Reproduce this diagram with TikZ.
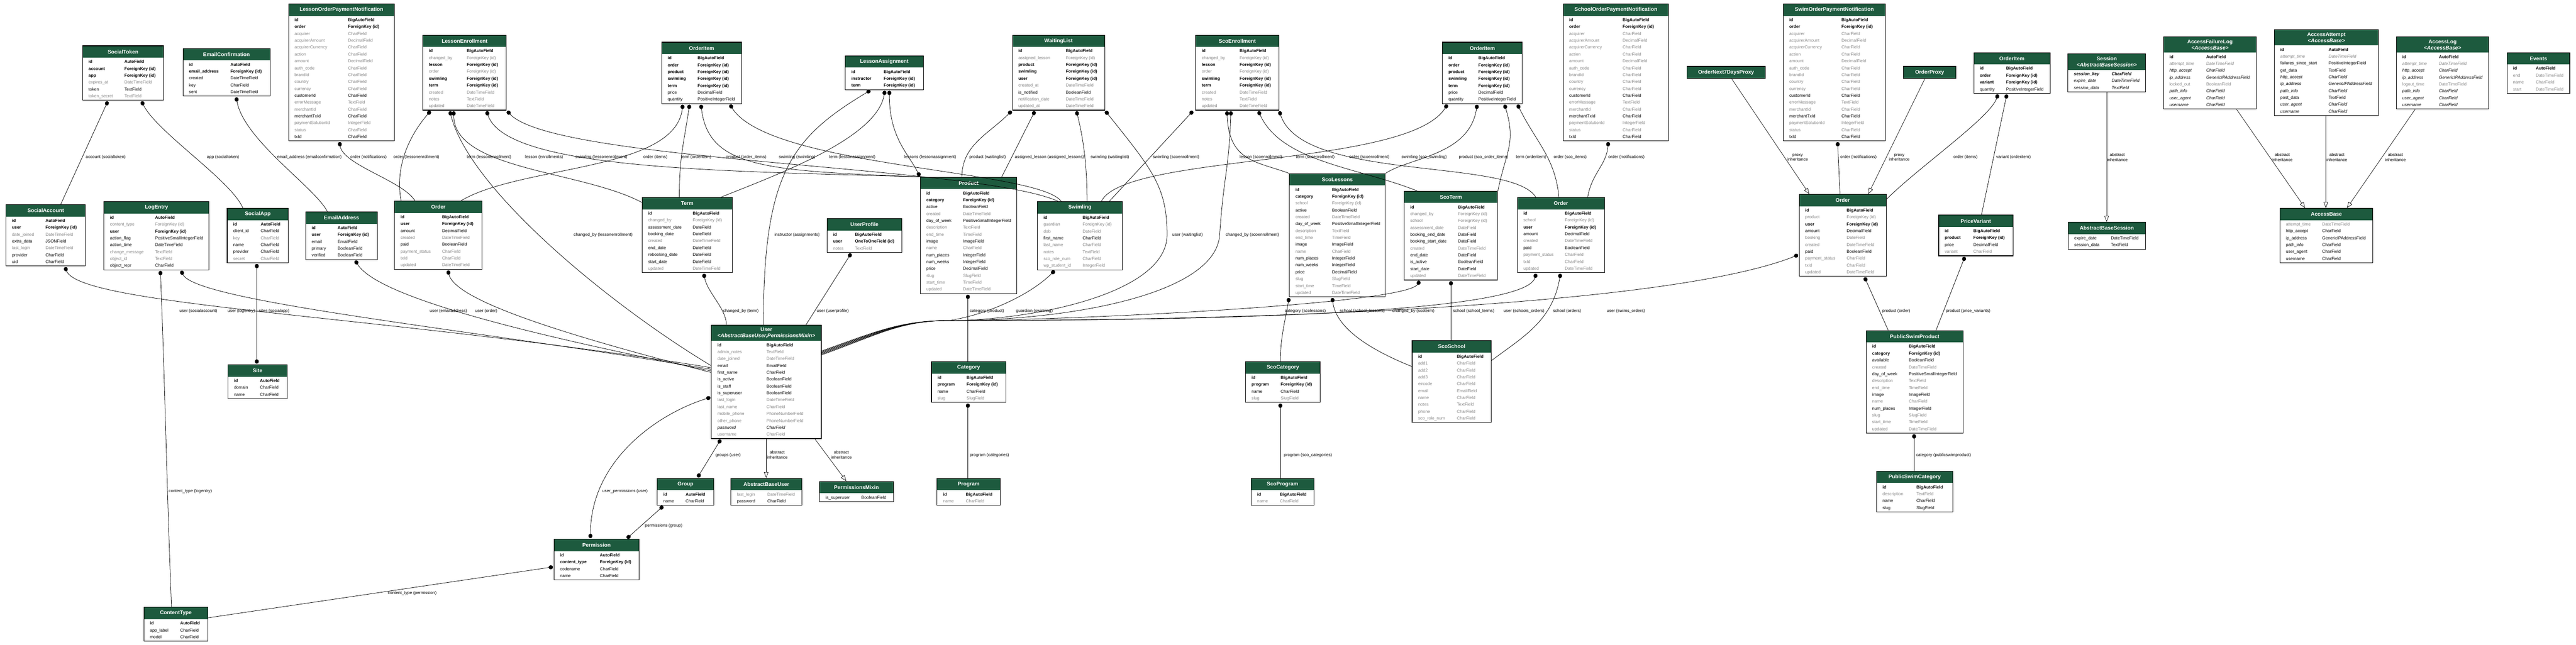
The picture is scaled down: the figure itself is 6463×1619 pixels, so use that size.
\documentclass[tikz,border=0pt]{standalone}
\usepackage{fontspec}
\setmainfont{Liberation Sans}
\usepackage{array}
\usetikzlibrary{arrows.meta,fit}

\definecolor{hdr}{HTML}{1D5A3E}
\definecolor{fieldgray}{HTML}{858585}
\renewcommand{\arraystretch}{1.38}

% one table row per field
\newcommand{\rowb}[2]{\textbf{#1} & \textbf{#2}\\}
\newcommand{\rown}[2]{#1 & #2\\}
\newcommand{\rowg}[2]{\textcolor{fieldgray}{#1} & \textcolor{fieldgray}{#2}\\}
\newcommand{\rowi}[2]{\textit{#1} & \textit{#2}\\}
\newcommand{\rowgi}[2]{\textcolor{fieldgray}{\textit{#1}} & \textcolor{fieldgray}{\textit{#2}}\\}
\newcommand{\rowbi}[2]{\textbf{\textit{#1}} & \textbf{\textit{#2}}\\}

% rows that several models share
\newcommand{\payrows}{\rowb{id}{BigAutoField}\rowb{order}{ForeignKey (id)}\rowg{acquirer}{CharField}
  \rowg{acquirerAmount}{DecimalField}\rowg{acquirerCurrency}{CharField}\rowg{action}{CharField}
  \rowg{amount}{DecimalField}\rowg{auth\_code}{CharField}\rowg{brandId}{CharField}
  \rowg{country}{CharField}\rowg{currency}{CharField}\rown{customerId}{CharField}
  \rowg{errorMessage}{TextField}\rowg{merchantId}{CharField}\rown{merchantTxId}{CharField}
  \rowg{paymentSolutionId}{IntegerField}\rowg{status}{CharField}\rown{txId}{CharField}}
\newcommand{\enrollrows}{\rowb{id}{BigAutoField}\rowg{changed\_by}{ForeignKey (id)}
  \rowb{lesson}{ForeignKey (id)}\rowg{order}{ForeignKey (id)}\rowb{swimling}{ForeignKey (id)}
  \rowb{term}{ForeignKey (id)}\rowg{created}{DateTimeField}\rowg{notes}{TextField}
  \rowg{updated}{DateTimeField}}
\newcommand{\itemrows}{\rowb{id}{BigAutoField}\rowb{order}{ForeignKey (id)}
  \rowb{product}{ForeignKey (id)}\rowb{swimling}{ForeignKey (id)}\rowb{term}{ForeignKey (id)}
  \rown{price}{DecimalField}\rown{quantity}{PositiveIntegerField}}
\newcommand{\lessonrows}{\rown{active}{BooleanField}\rowg{created}{DateTimeField}
  \rown{day\_of\_week}{PositiveSmallIntegerField}\rowg{description}{TextField}
  \rowg{end\_time}{TimeField}\rown{image}{ImageField}\rowg{name}{CharField}
  \rown{num\_places}{IntegerField}\rown{num\_weeks}{IntegerField}\rown{price}{DecimalField}
  \rowg{slug}{SlugField}\rowg{start\_time}{TimeField}\rowg{updated}{DateTimeField}}
\newcommand{\catrows}{\rowb{id}{BigAutoField}\rowb{program}{ForeignKey (id)}
  \rown{name}{CharField}\rowg{slug}{SlugField}}
\newcommand{\progrows}{\rowb{id}{BigAutoField}\rowg{name}{CharField}}

% #2 name, #3 top left, #4 width, #5 name column, #6 title, #7 rows
\newcommand{\ermodel}[7][]{%
  \node[model head, minimum width=#4pt, #1] (#2-h) at #3 {#6};
  \node[model body] (#2-b) at (#2-h.south west)
    {\begin{tabular}{@{\hspace{15pt}}p{#5pt}@{}l@{\hspace{6pt}}}#7\end{tabular}};
  \node[model frame, fit=(#2-h)(#2-b)] (#2) {};
}

\tikzset{
  model head/.style={fill=hdr, text=white, font=\fontsize{13.2}{15}\selectfont\bfseries,
    minimum height=29.6pt, inner sep=0pt, align=center, anchor=north west},
  model body/.style={inner xsep=0pt, inner ysep=1.5pt, anchor=north west,
    font=\fontsize{10.7}{12.5}\selectfont},
  model frame/.style={draw=black, line width=1.4pt, inner sep=0pt},
  fk/.style={draw, line width=1pt, {Circle[length=11pt,width=10pt]}-, shorten <=2pt},
  mm/.style={draw, line width=1pt, {Circle[length=11pt,width=10pt]}-{Circle[length=11pt,width=10pt]},
    shorten <=2pt, shorten >=2pt},
  inh/.style={draw, line width=0.9pt, -{Triangle[open,length=15pt,width=11pt]}},
  elabel/.style={font=\fontsize{10.6}{12}\selectfont, inner sep=1pt, anchor=west},
  ilabel/.style={font=\fontsize{10.6}{12}\selectfont, inner sep=1pt, align=center},
}

\begin{document}
\begin{tikzpicture}[x=1pt, y=-1pt]
  \useasboundingbox[fill=white] (0,0) rectangle (6463,1619);

  % allauth, admin, sites
  \ermodel{socialtoken}{(207,115)}{203}{90}{SocialToken}{\rowb{id}{AutoField}\rowb{account}{ForeignKey (id)}
    \rowb{app}{ForeignKey (id)}\rowg{expires\_at}{DateTimeField}\rown{token}{TextField}\rowg{token\_secret}{TextField}}
  \ermodel{emailconf}{(459,122)}{218}{104}{EmailConfirmation}{\rowb{id}{AutoField}
    \rowb{email\_address}{ForeignKey (id)}\rown{created}{DateTimeField}\rown{key}{CharField}\rown{sent}{DateTimeField}}
  \ermodel{lopn}{(724,10)}{265}{134}{LessonOrderPaymentNotification}{\payrows}
  \ermodel{socialaccount}{(15,514)}{199}{84}{SocialAccount}{\rowb{id}{AutoField}\rowb{user}{ForeignKey (id)}
    \rowg{date\_joined}{DateTimeField}\rown{extra\_data}{JSONField}\rowg{last\_login}{DateTimeField}
    \rown{provider}{CharField}\rown{uid}{CharField}}
  \ermodel{logentry}{(261,506)}{263}{113}{LogEntry}{\rowb{id}{AutoField}\rowg{content\_type}{ForeignKey (id)}
    \rowb{user}{ForeignKey (id)}\rown{action\_flag}{PositiveSmallIntegerField}\rown{action\_time}{DateTimeField}
    \rowg{change\_message}{TextField}\rowg{object\_id}{TextField}\rown{object\_repr}{CharField}}
  \ermodel{socialapp}{(570,523)}{153}{69}{SocialApp}{\rowb{id}{AutoField}\rown{client\_id}{CharField}
    \rowg{key}{CharField}\rown{name}{CharField}\rown{provider}{CharField}\rowg{secret}{CharField}}
  \ermodel{emailaddress}{(767,532)}{179}{65}{EmailAddress}{\rowb{id}{AutoField}\rowb{user}{ForeignKey (id)}
    \rown{email}{EmailField}\rown{primary}{BooleanField}\rown{verified}{BooleanField}}
  \ermodel{site}{(572,916)}{148}{65}{Site}{\rowb{id}{AutoField}\rown{domain}{CharField}\rown{name}{CharField}}
  \ermodel{contenttype}{(361,1525)}{160}{76}{ContentType}{\rowb{id}{AutoField}\rown{app\_label}{CharField}\rown{model}{CharField}}

  % lessons
  \ermodel{orderl}{(990,505)}{219}{104}{Order}{\rowb{id}{BigAutoField}\rowb{user}{ForeignKey (id)}
    \rown{amount}{DecimalField}\rowg{created}{DateTimeField}\rown{paid}{BooleanField}
    \rowg{payment\_status}{CharField}\rowg{txId}{CharField}\rowg{updated}{DateTimeField}}
  \ermodel{enroll}{(1061,88)}{209}{95}{LessonEnrollment}{\enrollrows}
  \ermodel{iteml}{(1660,106)}{200}{75}{OrderItem}{\itemrows}
  \ermodel{assign}{(2121,140)}{195}{81}{LessonAssignment}{\rowb{id}{BigAutoField}
    \rowb{instructor}{ForeignKey (id)}\rowb{term}{ForeignKey (id)}}
  \ermodel{term}{(1611,496)}{226}{112}{Term}{\rowb{id}{BigAutoField}\rowg{changed\_by}{ForeignKey (id)}
    \rown{assessment\_date}{DateField}\rown{booking\_date}{DateField}\rowg{created}{DateTimeField}
    \rown{end\_date}{DateField}\rown{rebooking\_date}{DateField}\rown{start\_date}{DateField}\rowg{updated}{DateTimeField}}
  \ermodel{profile}{(2075,549)}{187}{55}{UserProfile}{\rowb{id}{BigAutoField}
    \rowb{user}{OneToOneField (id)}\rowg{notes}{TextField}}
  \ermodel{waiting}{(2540,88)}{231}{119}{WaitingList}{\rowb{id}{BigAutoField}\rowg{assigned\_lesson}{ForeignKey (id)}
    \rowb{product}{ForeignKey (id)}\rowb{swimling}{ForeignKey (id)}\rowb{user}{ForeignKey (id)}
    \rowg{created\_at}{DateTimeField}\rown{is\_notified}{BooleanField}\rowg{notification\_date}{DateTimeField}
    \rowg{updated\_at}{DateTimeField}}
  \ermodel{product}{(2309,445)}{242}{92}{Product}{\rowb{id}{BigAutoField}\rowb{category}{ForeignKey (id)}\lessonrows}
  \ermodel{swimling}{(2603,506)}{212}{98}{Swimling}{\rowb{id}{BigAutoField}\rowg{guardian}{ForeignKey (id)}
    \rowg{dob}{DateField}\rown{first\_name}{CharField}\rowg{last\_name}{CharField}\rowg{notes}{TextField}
    \rowg{sco\_role\_num}{CharField}\rowg{wp\_student\_id}{IntegerField}}
  \ermodel{category}{(2337,908)}{186}{73}{Category}{\catrows}
  \ermodel{program}{(2351,1201)}{158}{57}{Program}{\progrows}

  % schools
  \ermodel{scoenroll}{(3000,88)}{208}{95}{ScoEnrollment}{\enrollrows}
  \ermodel{scolessons}{(3235,436)}{240}{92}{ScoLessons}{\rowb{id}{BigAutoField}\rowb{category}{ForeignKey (id)}
    \rowg{school}{ForeignKey (id)}\lessonrows}
  \ermodel{items}{(3619,106)}{200}{75}{OrderItem}{\itemrows}
  \ermodel{sopn}{(3922,10)}{264}{134}{SchoolOrderPaymentNotification}{\payrows}
  \ermodel{scoterm}{(3523,480)}{234}{120}{ScoTerm}{\rowb{id}{BigAutoField}\rowg{changed\_by}{ForeignKey (id)}
    \rowg{school}{ForeignKey (id)}\rowg{assessment\_date}{DateField}\rown{booking\_end\_date}{DateField}
    \rown{booking\_start\_date}{DateField}\rowg{created}{DateTimeField}\rown{end\_date}{DateField}
    \rown{is\_active}{BooleanField}\rown{start\_date}{DateField}\rowg{updated}{DateTimeField}}
  \ermodel{orders}{(3807,496)}{218}{104}{Order}{\rowb{id}{BigAutoField}\rowg{school}{ForeignKey (id)}
    \rowb{user}{ForeignKey (id)}\rown{amount}{DecimalField}\rowg{created}{DateTimeField}\rown{paid}{BooleanField}
    \rowg{payment\_status}{CharField}\rowg{txId}{CharField}\rowg{updated}{DateTimeField}}
  \ermodel{scocategory}{(3125,908)}{187}{73}{ScoCategory}{\catrows}
  \ermodel{scoprogram}{(3139,1201)}{157}{57}{ScoProgram}{\progrows}
  \ermodel{scoschool}{(3543,855)}{198}{97}{ScoSchool}{\rowb{id}{BigAutoField}\rowg{add1}{CharField}
    \rowg{add2}{CharField}\rowg{add3}{CharField}\rowg{eircode}{CharField}\rowg{email}{EmailField}
    \rowg{name}{CharField}\rowg{notes}{TextField}\rowg{phone}{CharField}\rowg{sco\_role\_num}{CharField}}

  % public swims
  \node[model head, draw=black, line width=1.4pt, minimum width=196pt, minimum height=31pt] (next7) at (4232,166) {OrderNext7DaysProxy};
  \node[model head, draw=black, line width=1.4pt, minimum width=131pt, minimum height=31pt] (orderproxy) at (4775,166) {OrderProxy};
  \ermodel{swopn}{(4474,10)}{256}{131}{SwimOrderPaymentNotification}{\payrows}
  \ermodel{itemw}{(4952,132)}{191}{66}{OrderItem}{\rowb{id}{BigAutoField}\rowb{order}{ForeignKey (id)}
    \rowb{variant}{ForeignKey (id)}\rown{quantity}{PositiveIntegerField}}
  \ermodel{orderw}{(4514,488)}{218}{104}{Order}{\rowb{id}{BigAutoField}\rowg{product}{ForeignKey (id)}
    \rowb{user}{ForeignKey (id)}\rown{amount}{DecimalField}\rowg{booking}{DateField}\rowg{created}{DateTimeField}
    \rown{paid}{BooleanField}\rowg{payment\_status}{CharField}\rowg{txId}{CharField}\rowg{updated}{DateTimeField}}
  \ermodel{pricevariant}{(4864,540)}{186}{72}{PriceVariant}{\rowb{id}{BigAutoField}\rowb{product}{ForeignKey (id)}
    \rown{price}{DecimalField}\rowg{variant}{CharField}}
  \ermodel{publicproduct}{(4682,830)}{243}{92}{PublicSwimProduct}{\rowb{id}{BigAutoField}\rowb{category}{ForeignKey (id)}
    \rown{available}{BooleanField}\rowg{created}{DateTimeField}\rown{day\_of\_week}{PositiveSmallIntegerField}
    \rowg{description}{TextField}\rowg{end\_time}{TimeField}\rown{image}{ImageField}\rowg{name}{CharField}
    \rown{num\_places}{IntegerField}\rowg{slug}{SlugField}\rowg{start\_time}{TimeField}\rowg{updated}{DateTimeField}}
  \ermodel{publiccategory}{(4708,1183)}{191}{85}{PublicSwimCategory}{\rowb{id}{BigAutoField}
    \rowg{description}{TextField}\rown{name}{CharField}\rown{slug}{SlugField}}

  % sessions, axes, events
  \ermodel[minimum height=40pt]{session}{(5188,135)}{195}{95}{Session\\\textit{<AbstractBaseSession>}}{\rowbi{session\_key}{CharField}
    \rowi{expire\_date}{DateTimeField}\rowi{session\_data}{TextField}}
  \ermodel{abstractsession}{(5189,558)}{193}{92}{AbstractBaseSession}{\rown{expire\_date}{DateTimeField}\rown{session\_data}{TextField}}
  \ermodel[minimum height=40pt]{failurelog}{(5428,92)}{233}{92}{AccessFailureLog\\\textit{<AccessBase>}}{\rowb{id}{AutoField}
    \rowgi{attempt\_time}{DateTimeField}\rowi{http\_accept}{CharField}\rowi{ip\_address}{GenericIPAddressField}
    \rowg{locked\_out}{BooleanField}\rowi{path\_info}{CharField}\rowi{user\_agent}{CharField}\rowi{username}{CharField}}
  \ermodel[minimum height=40pt]{attempt}{(5706,74)}{261}{121}{AccessAttempt\\\textit{<AccessBase>}}{\rowb{id}{AutoField}
    \rowgi{attempt\_time}{DateTimeField}\rown{failures\_since\_start}{PositiveIntegerField}\rown{get\_data}{TextField}
    \rowi{http\_accept}{CharField}\rowi{ip\_address}{GenericIPAddressField}\rowi{path\_info}{CharField}
    \rown{post\_data}{TextField}\rowi{user\_agent}{CharField}\rowi{username}{CharField}}
  \ermodel[minimum height=40pt]{accesslog}{(6012,92)}{232}{92}{AccessLog\\\textit{<AccessBase>}}{\rowb{id}{AutoField}
    \rowgi{attempt\_time}{DateTimeField}\rowi{http\_accept}{CharField}\rowi{ip\_address}{GenericIPAddressField}
    \rowg{logout\_time}{DateTimeField}\rowi{path\_info}{CharField}\rowi{user\_agent}{CharField}\rowi{username}{CharField}}
  \ermodel{events}{(6290,132)}{157}{57}{Events}{\rowb{id}{AutoField}\rowg{end}{DateTimeField}
    \rowg{name}{CharField}\rowg{start}{DateTimeField}}
  \ermodel{accessbase}{(5720,523)}{233}{91}{AccessBase}{\rowg{attempt\_time}{DateTimeField}\rown{http\_accept}{CharField}
    \rown{ip\_address}{GenericIPAddressField}\rown{path\_info}{CharField}\rown{user\_agent}{CharField}\rown{username}{CharField}}

  % users
  \ermodel[minimum height=40pt]{user}{(1785,816)}{275}{123}{User\\\textit{<AbstractBaseUser,PermissionsMixin>}}{\rowb{id}{BigAutoField}
    \rowg{admin\_notes}{TextField}\rowg{date\_joined}{DateTimeField}\rown{email}{EmailField}\rown{first\_name}{CharField}
    \rown{is\_active}{BooleanField}\rown{is\_staff}{BooleanField}\rown{is\_superuser}{BooleanField}
    \rowg{last\_login}{DateTimeField}\rowg{last\_name}{CharField}\rowg{mobile\_phone}{PhoneNumberField}
    \rowg{other\_phone}{PhoneNumberField}\rowi{password}{CharField}\rowg{username}{CharField}}
  \ermodel{group}{(1649,1201)}{141}{56}{Group}{\rowb{id}{AutoField}\rown{name}{CharField}}
  \ermodel{abstractuser}{(1834,1201)}{177}{76}{AbstractBaseUser}{\rowg{last\_login}{DateTimeField}\rown{password}{CharField}}
  \ermodel{permmixin}{(2056,1209)}{185}{90}{PermissionsMixin}{\rown{is\_superuser}{BooleanField}}
  \ermodel{permission}{(1390,1354)}{213}{100}{Permission}{\rowb{id}{AutoField}\rowb{content\_type}{ForeignKey (id)}
    \rown{codename}{CharField}\rown{name}{CharField}}

  \coordinate (ubus) at (2380,805);

  % upper connectors
  \draw[fk] ([xshift=65pt]socialtoken.south west) -- ([xshift=138pt]socialaccount.north west);
  \draw[fk] ([xshift=148pt]socialtoken.south west) .. controls +(40,80) and +(-30,-70) .. ([xshift=40pt]socialapp.north west);
  \draw[fk] ([xshift=134pt]emailconf.south west) .. controls +(20,110) and +(-30,-60) .. ([xshift=55pt]emailaddress.north west);
  \draw[fk] ([xshift=128pt]lopn.south west) .. controls +(10,60) and +(-30,-50) .. ([xshift=52pt]orderl.north west);
  \draw[fk] ([xshift=21pt]enroll.south west) .. controls +(-60,70) and +(-15,-80) .. ([xshift=17pt]orderl.north west);
  \draw[fk] ([xshift=78pt]enroll.south west) .. controls +(0,150) and +(-150,-80) .. ([yshift=-13pt]term.north west);
  \draw[fk] ([xshift=160pt]enroll.south west) .. controls +(50,150) and +(-500,-15) .. ([xshift=8pt]product.north west);
  \draw[fk] (enroll.south east) .. controls +(120,130) and +(-200,-90) .. ([xshift=52pt]swimling.north west);
  \draw[fk] ([xshift=68pt]enroll.south west) .. controls +(50,200) and +(-250,-150) .. ([yshift=-103pt]user.north west);
  \draw[fk] ([xshift=54pt]iteml.south west) .. controls +(-20,170) and +(150,-90) .. ([xshift=167pt]orderl.north west);
  \draw[fk] ([xshift=71pt]iteml.south west) .. controls +(-15,100) and +(0,-100) .. ([xshift=94pt]term.north west);
  \draw[fk] ([xshift=99pt]iteml.south west) .. controls +(20,160) and +(-400,-15) .. ([xshift=8pt]product.north west);
  \draw[fk] ([xshift=171pt]iteml.south west) .. controls +(100,160) and +(-60,-80) .. ([xshift=60pt]swimling.north west);
  \draw[fk] ([xshift=100pt]assign.south west) .. controls +(-20,120) and +(150,-60) .. ([xshift=198pt]term.north west);
  \draw[mm] ([xshift=111pt]assign.south west) .. controls +(0,120) and +(-30,-60) .. (product.north west);
  \draw[fk] ([xshift=65pt]assign.south west) .. controls +(-200,120) and +(0,-380) .. ([xshift=131pt]user.north west);
  \draw[fk] (waiting.south west) .. controls +(-60,60) and +(0,-80) .. ([xshift=105pt]product.north west);
  \draw[fk] ([xshift=58pt]waiting.south west) -- ([xshift=205pt]product.north west);
  \draw[fk] ([xshift=161pt]waiting.south west) .. controls +(20,80) and +(0,-80) .. ([xshift=125pt]swimling.north west);
  \draw[fk] ([xshift=-5pt]scoenroll.south west) -- ([xshift=181pt]swimling.north west);
  \draw[fk] ([xshift=79pt]scoenroll.south west) .. controls +(5,130) and +(-80,-30) .. (scolessons.north west);
  \draw[fk] ([xshift=157pt]scoenroll.south west) .. controls +(60,130) and +(-150,-60) .. ([xshift=33pt]scoterm.north west);
  \draw[fk] (scoenroll.south east) .. controls +(60,180) and +(-60,-100) .. ([xshift=47pt]orders.north west);
  \draw[fk] ([xshift=14pt]items.south west) .. controls +(-100,160) and +(60,-120) .. ([xshift=161pt]swimling.north west);
  \draw[fk] ([xshift=88pt]items.south west) .. controls +(-20,130) and +(60,-40) .. (scolessons.north east);
  \draw[fk] ([xshift=156pt]items.south west) .. controls +(30,100) and +(20,-100) .. (scoterm.north east);
  \draw[fk] ([xshift=188pt]items.south west) .. controls +(50,100) and +(-10,-100) .. ([xshift=105pt]orders.north west);
  \draw[fk] ([xshift=114pt]sopn.south west) .. controls +(-5,60) and +(10,-60) .. ([xshift=177pt]orders.north west);
  \draw[inh] ([xshift=113pt]next7.south west) -- ([xshift=26pt]orderw.north west);
  \draw[inh] ([xshift=54pt]orderproxy.south west) -- ([xshift=174pt]orderw.north west);
  \draw[fk] ([xshift=137pt]swopn.south west) -- ([xshift=103pt]orderw.north west);
  \draw[fk] ([xshift=62pt]itemw.south west) .. controls +(-20,60) and +(80,-80) .. ([yshift=-13pt]orderw.north east);
  \draw[fk] ([xshift=84pt]itemw.south west) -- ([xshift=108pt]pricevariant.north west);
  \draw[inh] ([xshift=98pt]session.south west) -- ([xshift=97pt]abstractsession.north west);
  \draw[inh] ([xshift=184pt]failurelog.south west) -- ([xshift=64pt]accessbase.north west);
  \draw[inh] ([xshift=130pt]attempt.south west) -- ([xshift=116pt]accessbase.north west);
  \draw[inh] ([xshift=48pt]accesslog.south west) -- ([xshift=169pt]accessbase.north west);

  % connectors into User and the lower row
  \draw[fk] ([xshift=148pt]socialaccount.south west) .. controls +(40,100) and +(-800,-130) .. ([yshift=-108pt]user.north west);
  \draw[fk] ([xshift=193pt]logentry.south west) .. controls +(40,80) and +(-600,-100) .. ([yshift=-112pt]user.north west);
  \draw[fk] ([xshift=142pt]logentry.south west) .. controls +(12,300) and +(-12,-300) .. ([xshift=70pt]contenttype.north west);
  \draw[mm] ([xshift=75pt]socialapp.south west) -- ([xshift=73pt]site.north west);
  \draw[fk] ([xshift=124pt]emailaddress.south west) .. controls +(60,100) and +(-400,-80) .. ([yshift=-116pt]user.north west);
  \draw[fk] ([xshift=134pt]orderl.south west) .. controls +(20,80) and +(-350,-90) .. ([yshift=-120pt]user.north west);
  \draw[fk] ([xshift=155pt]term.south west) .. controls +(10,50) and +(0,-40) .. ([xshift=38pt]user.north west);
  \draw[fk] ([xshift=62pt]profile.south west) -- ([xshift=238pt]user.north west);
  \draw[fk] ([xshift=120pt]product.south west) -- ([xshift=92pt]category.north west);
  \draw[fk] (waiting.south east) .. controls +(120,150) and +(0,-120) .. (2928,590) .. controls +(0,150) and +(200,0) .. (ubus)
    .. controls +(-120,0) and +(140,-50) .. ([yshift=-66pt]user.north east);
  \draw[fk] ([xshift=89pt]scoenroll.south west) .. controls +(-5,150) and +(10,-150) .. (3060,590) .. controls +(-10,150) and +(300,0) .. (ubus)
    .. controls +(-120,0) and +(140,-50) .. ([yshift=-68pt]user.north east);
  \draw[fk] ([xshift=45pt]swimling.south west) .. controls +(-60,60) and +(100,-15) .. (ubus)
    .. controls +(-120,0) and +(140,-50) .. ([yshift=-70pt]user.north east);
  \draw[fk] ([xshift=41pt]scoterm.south west) .. controls +(-40,60) and +(300,0) .. (ubus)
    .. controls +(-120,0) and +(140,-50) .. ([yshift=-72pt]user.north east);
  \draw[fk] ([xshift=48pt]orders.south west) .. controls +(-30,110) and +(500,0) .. (ubus)
    .. controls +(-120,0) and +(140,-50) .. ([yshift=-74pt]user.north east);
  \draw[fk] ([yshift=-152pt]orderw.north west) .. controls +(-300,120) and +(900,0) .. (ubus)
    .. controls +(-120,0) and +(140,-50) .. ([yshift=-76pt]user.north east);
  \draw[fk] (scolessons.south west) .. controls +(-10,60) and +(0,-60) .. ([xshift=88pt]scocategory.north west);
  \draw[fk] ([xshift=108pt]scolessons.south west) .. controls +(10,80) and +(-100,-40) .. ([yshift=-66pt]scoschool.north west);
  \draw[fk] ([xshift=118pt]scoterm.south west) -- ([xshift=98pt]scoschool.north west);
  \draw[fk] ([xshift=109pt]orders.south west) .. controls +(-20,120) and +(80,-60) .. ([yshift=-51pt]scoschool.north east);
  \draw[fk] ([xshift=164pt]orderw.south west) -- ([xshift=56pt]publicproduct.north west);
  \draw[fk] ([xshift=67pt]pricevariant.south west) -- ([xshift=176pt]publicproduct.north west);
  \draw[fk] ([xshift=121pt]publicproduct.south west) -- ([xshift=95pt]publiccategory.north west);
  \draw[fk] ([xshift=92pt]category.south west) -- ([xshift=78pt]program.north west);
  \draw[fk] ([xshift=88pt]scocategory.south west) -- ([xshift=74pt]scoprogram.north west);
  \draw[mm] ([xshift=25pt]user.south west) -- ([xshift=101pt]group.north west);
  \draw[inh] ([xshift=138pt]user.south west) -- ([xshift=89pt]abstractuser.north west);
  \draw[inh] ([xshift=260pt]user.south west) -- ([xshift=68pt]permmixin.north west);
  \draw[mm] ([yshift=-182pt]user.north west) .. controls +(-130,40) and +(0,-200) .. ([xshift=92pt]permission.north west);
  \draw[mm] ([xshift=17pt]group.south west) -- ([xshift=182pt]permission.north west);
  \draw[fk] ([yshift=-70pt]permission.north west) -- ([yshift=-27pt]contenttype.north east);

  % connector labels
  \foreach \x/\y/\t [count=\i] in {214/395/account (socialtoken), 518/395/app (socialtoken),
      694/395/email\_address (emailconfirmation), 878/395/order (notifications), 986/395/order (lessonenrollment),
      1170/395/term (lessonenrollment), 1316/395/lesson (enrollments), 1442/395/swimling (lessonenrollment),
      1613/395/order (items), 1707/395/term (orderitem), 1820/395/product (order\_items),
      1953/395/swimling (swimling), 2079/395/term (lessonassignment), 2267/395/lessons (lessonassignment),
      2431/395/product (waitinglist), 2545/395/assigned\_lesson (assigned\_lessons), 2735/395/swimling (waitinglist),
      2891/395/swimling (scoenrollment), 3109/395/lesson (scoenrollment), 3250/395/term (scoenrollment),
      3384/395/order (scoenrollment), 3515/395/swimling (sco\_swimling), 3659/395/product (sco\_order\_items),
      3802/395/term (orderitem), 3897/395/order (sco\_items), 4034/395/order (notifications),
      4616/395/order (notifications), 4900/395/order (items), 5007/395/variant (orderitem),
      1438/590/changed\_by (lessonenrollment), 1942/590/instructor (assignments), 2940/590/user (waitinglist),
      3074/590/changed\_by (scoenrollment), 449/781/user (socialaccount), 570/781/user (logentry),
      648/781/sites (socialapp), 1077/781/user (emailaddress), 1191/781/user (order), 1813/781/changed\_by (term),
      2048/781/user (userprofile), 2432/781/category (product), 2548/781/guardian (swimling),
      3222/781/category (scolessons), 3360/781/school (school\_lessons), 3492/781/changed\_by (scoterm),
      3644/781/school (school\_terms), 3771/781/user (schools\_orders), 3895/781/school (orders),
      4030/781/user (swims\_orders), 4721/781/product (order), 4881/781/product (price\_variants),
      1794/1143/groups (user), 2432/1143/program (categories), 3220/1143/program (sco\_categories),
      4806/1143/category (publicswimproduct), 422/1234/content\_type (logentry), 1510/1234/user\_permissions (user),
      1617/1320/permissions (group), 972/1490/content\_type (permission)}
    \node[elabel] (lab\i) at (\x,\y) {\t};
  \foreach \x/\y [count=\i] in {4510/395, 4765/395}
    \node[ilabel] (proxy\i) at (\x,\y) {proxy\\inheritance};
  \foreach \x/\y [count=\i] in {5312/395, 5726/395, 5863/395, 6010/395, 1950/1142, 2111/1142}
    \node[ilabel] (abstract\i) at (\x,\y) {abstract\\inheritance};
\end{tikzpicture}
\end{document}
